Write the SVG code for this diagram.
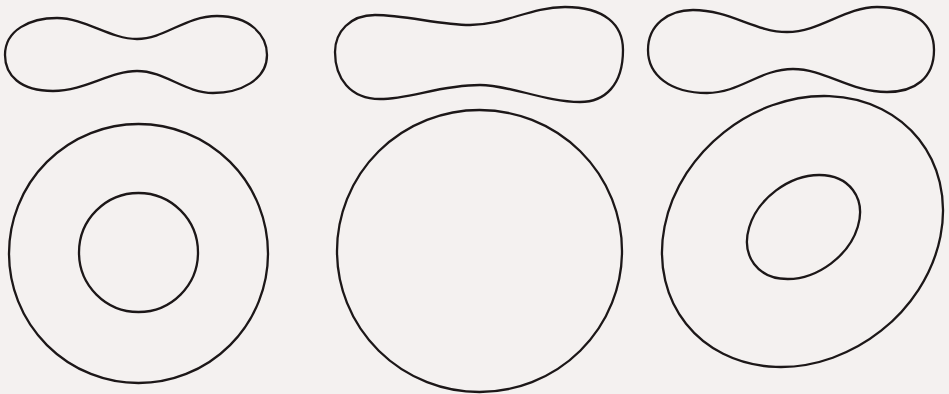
<svg xmlns="http://www.w3.org/2000/svg" width="949" height="394" viewBox="0 0 949 394">
<style>
.s{fill:none;stroke:#1c1718;stroke-width:2.3;stroke-linejoin:round}
</style>
<rect width="949" height="394" fill="#f4f1f0"/>
<g id="dumbbell-left">
<path class="s" d="M5,55 C5,30 30,18 57,18 C85,18 110,39 137,39 C165,39 185,16 217,16 C250,16 267,35 267,55 C267,80 240,93 213,93 C185,93 165,71 137,71 C110,71 85,91 53,91 C20,91 5,75 5,55 Z"/>
</g>
<g id="dumbbell-middle">
<path class="s" d="M335,52 C335,32 350,15 375,15 C405,15 440,25 470,25 C505,25 530,7 565,7 C605,7 623,25 623,50 C623,85 605,102 580,102 C545,102 510,85 480,85 C440,85 410,99 380,99 C350,99 335,78 335,52 Z"/>
</g>
<g id="dumbbell-right">
<path class="s" d="M648,50 C648,25 668,10 693,10 C730,10 755,32 787,32 C820,32 845,7 877,7 C915,7 934,25 934,50 C934,78 915,92 887,92 C850,92 825,69 793,69 C760,69 740,93 707,93 C670,93 648,75 648,50 Z"/>
</g>
<g id="ring-left">
<circle class="s" cx="138.5" cy="253.5" r="129.5"/>
<circle class="s" cx="138.5" cy="252.5" r="59.5"/>
</g>
<g id="disc-middle">
<ellipse class="s" cx="479.5" cy="251" rx="142.5" ry="141"/>
</g>
<g id="ring-right">
<ellipse class="s" cx="802.5" cy="231.5" rx="148.6" ry="126.6" transform="rotate(-38.4 802.5 231.5)"/>
<ellipse class="s" cx="803.5" cy="227" rx="61.7" ry="45.7" transform="rotate(-36.8 803.5 227)"/>
</g>
</svg>
